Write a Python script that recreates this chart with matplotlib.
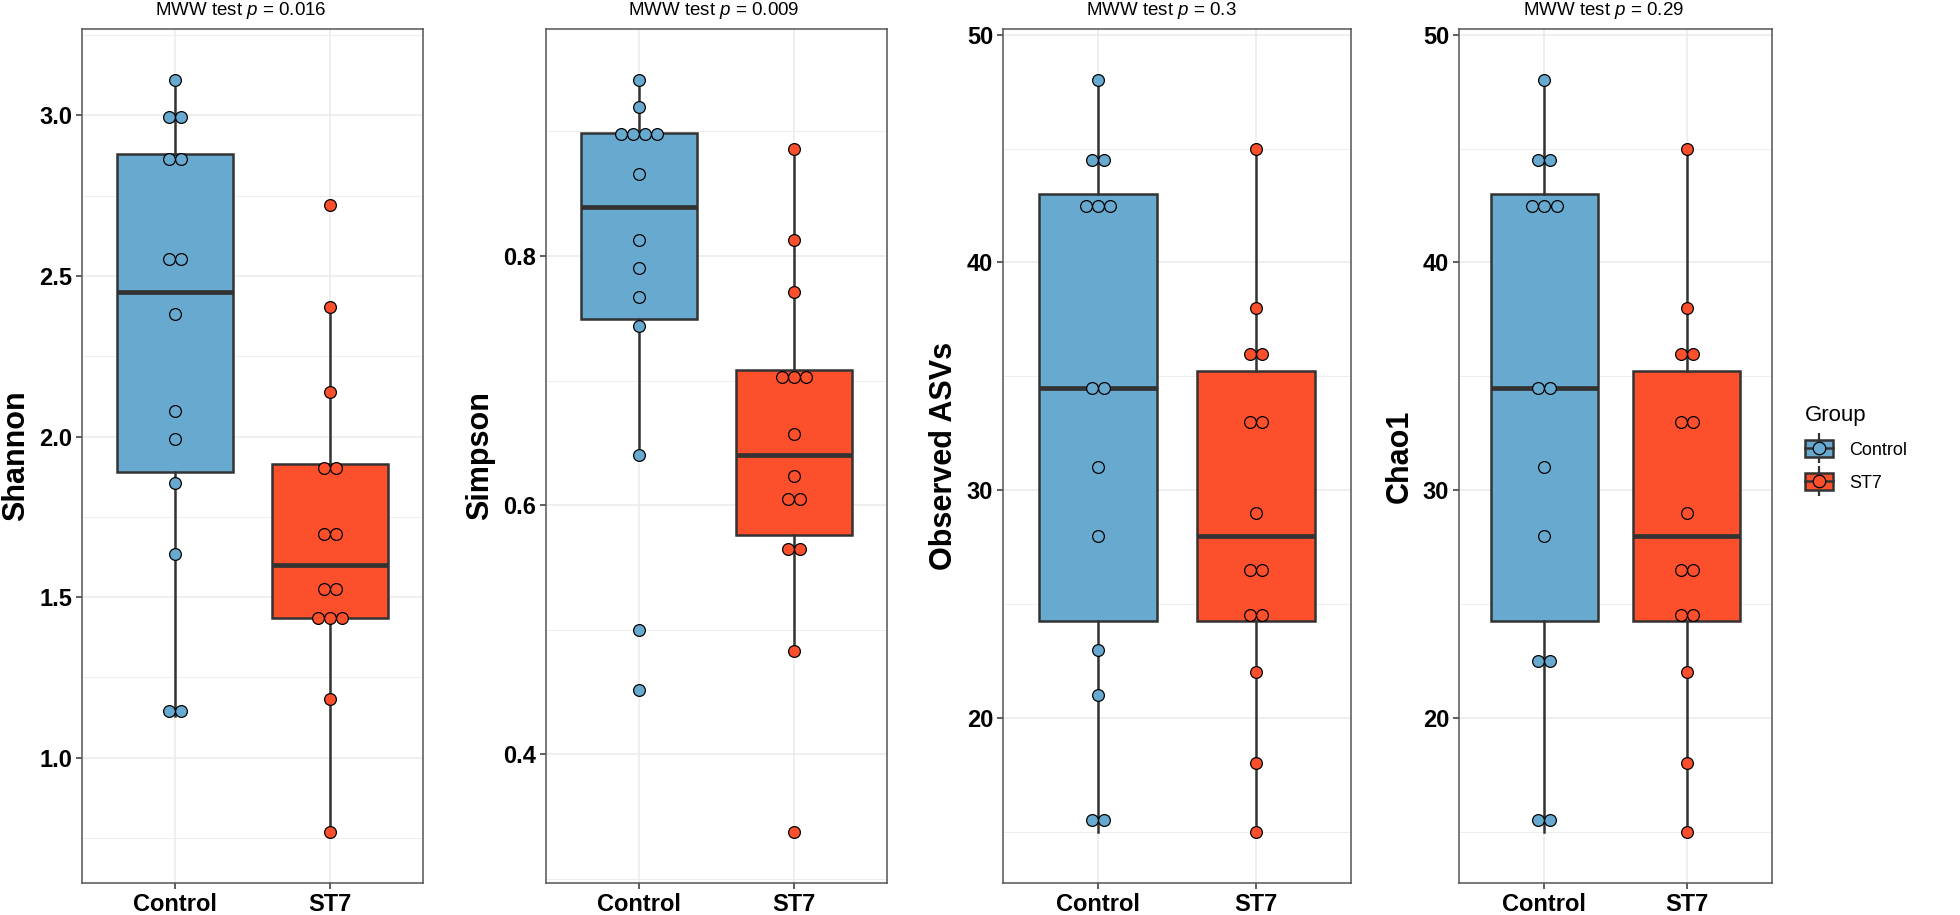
import numpy as np
import matplotlib.pyplot as plt
from matplotlib.patches import Patch
from matplotlib.lines import Line2D
from matplotlib.legend_handler import HandlerTuple

plt.rcParams['font.family'] = ['Liberation Sans', 'DejaVu Sans']
plt.rcParams['mathtext.fontset'] = 'custom'
plt.rcParams['mathtext.rm'] = 'Liberation Sans'
plt.rcParams['mathtext.it'] = 'Liberation Sans:italic'

# dados
groups = ['Control', 'ST7']
shannon_control = [1.13, 1.16, 1.633, 1.856, 1.993, 2.08, 2.381, 2.519, 2.585, 2.834, 2.894, 2.98, 3.01, 3.109]
shannon_st7 = [0.770, 1.183, 1.434, 1.434, 1.434, 1.526, 1.526, 1.672, 1.724, 1.879, 1.927, 2.138, 2.403, 2.720]
simpson_control = [0.452, 0.500, 0.640, 0.744, 0.767, 0.790, 0.813, 0.866, 0.889, 0.895, 0.900, 0.907, 0.920, 0.941]
simpson_st7 = [0.338, 0.483, 0.562, 0.568, 0.600, 0.610, 0.6235, 0.657, 0.696, 0.703, 0.710, 0.771, 0.813, 0.886]
observed_control = [15, 16, 21, 23, 28, 31, 34, 35, 42, 43, 43, 44, 45, 48]
observed_st7 = [15, 18, 22, 24, 25, 26, 27, 29, 33, 33, 36, 36, 38, 45]
chao1_control = [15, 16, 22, 23, 28, 31, 34, 35, 42, 43, 43, 44, 45, 48]
chao1_st7 = [15, 18, 22, 24, 25, 26, 27, 29, 33, 33, 36, 36, 38, 45]
metricas = ['Shannon', 'Simpson', 'Observed ASVs', 'Chao1']
p_valores = ['0.016', '0.009', '0.3', '0.29']

dados = [(shannon_control, shannon_st7), (simpson_control, simpson_st7),
         (observed_control, observed_st7), (chao1_control, chao1_st7)]
passos = [0.5, 0.2, 10, 10]
formatos = ['%.1f', '%.1f', '%d', '%d']
cores = ['#68AACF', '#FC502C']
escuro = '#333333'

W, H = 1960, 915
eixos_px = [(82, 423), (546, 887), (1003, 1351), (1459, 1772)]
titulo_x = [241, 714, 1161, 1604]
topo, base = 29, 883


def bins_dotplot(valores, bw):
    v = sorted(valores)
    bins = []
    i = 0
    while i < len(v):
        j = i
        while j + 1 < len(v) and v[j + 1] < v[i] + bw:
            j += 1
        bins.append(((v[i] + v[j]) / 2, j - i + 1))
        i = j + 1
    return bins


fig = plt.figure(figsize=(W / 100, H / 100), dpi=100)

for k in range(4):
    esq, dir = eixos_px[k]
    ax = fig.add_axes([esq / W, (H - base) / H, (dir - esq) / W, (base - topo) / H])
    ctrl, st7 = dados[k]
    tudo = list(ctrl) + list(st7)
    bw = (max(tudo) - min(tudo)) / 30
    bins = [bins_dotplot(ctrl, bw), bins_dotplot(st7, bw)]
    centros = [c for b in bins for c, n in b]
    lo = min(centros) - bw / 2
    hi = max(centros) + bw / 2
    r = hi - lo
    lo, hi = lo - 0.05 * r, hi + 0.05 * r

    bp = ax.boxplot([ctrl, st7], positions=[1, 2], widths=0.75, whis=1.5,
                    showcaps=False, showfliers=False, patch_artist=True,
                    medianprops=dict(color=escuro, linewidth=3.4),
                    boxprops=dict(edgecolor=escuro, linewidth=1.8),
                    whiskerprops=dict(color=escuro, linewidth=1.8), zorder=2)
    for caixa, c in zip(bp['boxes'], cores):
        caixa.set_facecolor(c)

    # pontos empilhados como geom_dotplot (stackdir = center)
    dx = 12.2 / ((dir - esq) / 2.2)
    for g in range(2):
        for centro, n in bins[g]:
            xs = (g + 1) + (np.arange(n) - (n - 1) / 2) * dx
            ax.scatter(xs, [centro] * n, s=72, facecolor=cores[g], edgecolor='black',
                       linewidth=0.9, zorder=3)

    ax.set_xlim(0.4, 2.6)
    ax.set_ylim(lo, hi)
    passo = passos[k]
    yt = np.arange(np.ceil(lo / passo) * passo, hi, passo)
    ax.set_yticks(yt, [formatos[k] % v for v in yt], fontweight='bold')
    ym = np.arange(np.ceil(lo / (passo / 2)) * (passo / 2), hi, passo / 2)
    ax.set_yticks(ym, minor=True)
    ax.set_xticks([1, 2], groups, fontweight='bold')
    ax.tick_params(which='major', length=4, width=1.1, color=escuro, labelsize=17, pad=3)
    ax.tick_params(which='minor', length=0)
    ax.set_axisbelow(True)
    ax.grid(which='major', color='#EBEBEB', linewidth=1.1)
    ax.grid(which='minor', axis='y', color='#EBEBEB', linewidth=0.6)
    for s in ax.spines.values():
        s.set_color('#555555')
        s.set_linewidth(1.1)
    ax.set_ylabel(metricas[k], fontsize=22, fontweight='bold', labelpad=6)

    fig.text(titulo_x[k] / W, 1 - 15 / H, 'MWW test $p$ = ' + p_valores[k],
             ha='center', va='baseline', fontsize=13.5)

handles = []
for c in cores:
    linha_v = Line2D([], [], color=escuro, marker='|', markersize=21, markeredgewidth=1.6, linestyle='none')
    caixa = Patch(facecolor=c, edgecolor=escuro, linewidth=1.8)
    linha_h = Line2D([], [], color=escuro, linewidth=1.8)
    ponto = Line2D([], [], marker='o', markersize=9, markerfacecolor=c, markeredgecolor='black',
                   markeredgewidth=0.9, linestyle='none')
    handles.append((linha_v, caixa, linha_h, ponto))

leg = fig.legend(handles, groups, handler_map={tuple: HandlerTuple(ndivide=1)},
                 loc='upper left', bbox_to_anchor=(1805 / W, 1 - 405 / H),
                 title='Group', title_fontsize=16, fontsize=13, frameon=False,
                 alignment='left', borderpad=0, borderaxespad=0,
                 handlelength=1.55, handleheight=1.05, handletextpad=0.9, labelspacing=0.8)

plt.savefig('out.png', dpi=100)
